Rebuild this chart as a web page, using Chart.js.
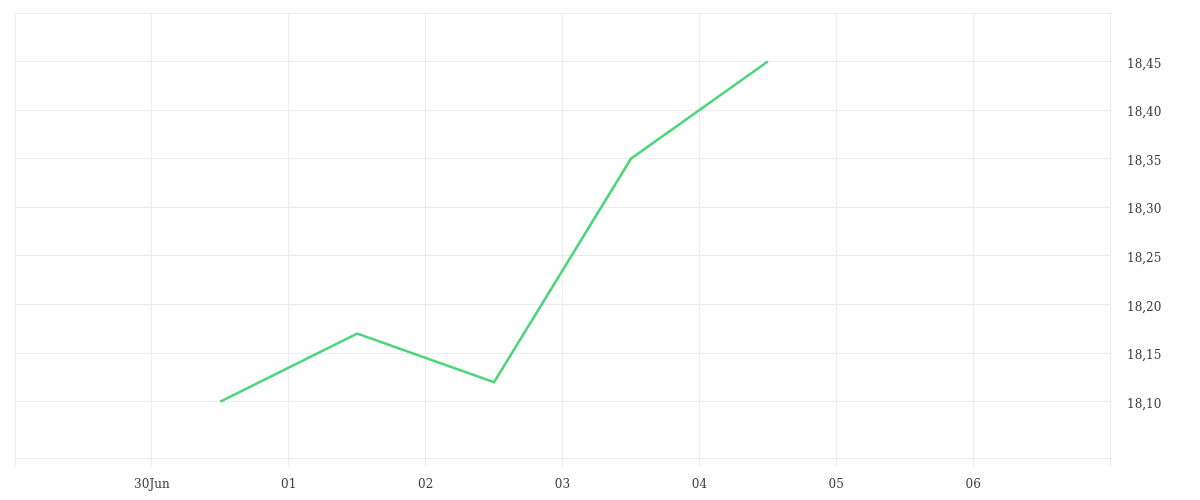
<!DOCTYPE html>
<html>
<head>
<meta charset="utf-8">
<script src="https://cdn.jsdelivr.net/npm/chart.js@4/dist/chart.umd.min.js"></script>
<style>
  html, body { margin: 0; padding: 0; background: #fff; }
  .chart-container { position: relative; width: 1200px; height: 500px; }
</style>
</head>
<body>
<div class="chart-container">
  <canvas id="price"></canvas>
</div>
<script>
// day grid labels (29Jun .. 07Jul, the edge ones are unlabelled)
const dayLabels = ['', '30Jun', '01', '02', '03', '04', '05', '06', '']
// points sit at midday of each day (day index + 0.5)
const pointDays = [1.5, 2.5, 3.5, 4.5, 5.5]
const prices = [18.10, 18.17, 18.12, 18.35, 18.45]
const yTickValues = [18.10, 18.15, 18.20, 18.25, 18.30, 18.35, 18.40, 18.45, 18.50]
const yLabelled = [18.10, 18.15, 18.20, 18.25, 18.30, 18.35, 18.40, 18.45]

const gridColor = '#ececec'
const textColor = '#3a3a3a'
const font = { family: 'DejaVu Serif', size: 12 }

var ctx = document.getElementById('price')

var myChart = new Chart(ctx, {
  type: 'line',
  data: {
    datasets: [{
      label: 'Precio',
      data: pointDays.map((d, i) => ({ x: d, y: prices[i] })),
      borderColor: '#4cd67a',
      backgroundColor: '#4cd67a',
      borderWidth: 2.5,
      pointRadius: 0,
      tension: 0
    }]
  },
  options: {
    responsive: true,
    maintainAspectRatio: false,
    animation: false,
    layout: { padding: { left: 15, top: 13, right: 0, bottom: 0 } },
    plugins: {
      legend: { display: false },
      tooltip: { enabled: false }
    },
    scales: {
      x: {
        type: 'linear',
        min: 0,
        max: dayLabels.length - 1,
        afterBuildTicks: scale => {
          scale.ticks = dayLabels.map((l, i) => ({ value: i }))
        },
        afterFit: scale => {
          scale.height = 42
          scale.paddingTop = 0
        },
        grid: { color: gridColor, tickLength: 9, lineWidth: 1 },
        border: { color: gridColor },
        ticks: {
          color: textColor,
          font: font,
          padding: 11,
          maxRotation: 0,
          autoSkip: false,
          callback: v => dayLabels[v]
        }
      },
      y: {
        position: 'right',
        min: 18.042,
        max: 18.5,
        afterBuildTicks: scale => {
          scale.ticks = yTickValues.map(v => ({ value: v }))
        },
        afterFit: scale => {
          scale.width = 90
          scale.paddingTop = 0
          scale.paddingBottom = 0
        },
        grid: { color: gridColor, tickLength: 0, drawTicks: false },
        border: { color: gridColor },
        ticks: {
          color: textColor,
          font: font,
          padding: 17,
          labelOffset: 3,
          callback: v => yLabelled.some(t => Math.abs(t - v) < 1e-6) ? v.toFixed(2).replace('.', ',') : ''
        }
      }
    }
  }
})
</script>
</body>
</html>
